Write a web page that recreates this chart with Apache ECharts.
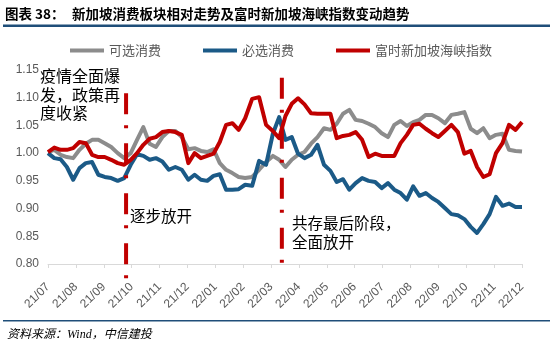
<!DOCTYPE html>
<html>
<head>
<meta charset="utf-8">
<script src="https://cdn.jsdelivr.net/npm/echarts@6/dist/echarts.min.js"></script>
<style>
html, body { margin: 0; padding: 0; background: #fff; }
#chart { width: 550px; height: 351px; }
</style>
</head>
<body>
<div id="chart"></div>
<script>
// 周度采样：2021-07-01 起每 7 天一个点
var startDate = '2021-07-01';
var stepDays = 7;

var monthLabels = ['21/07', '21/08', '21/09', '21/10', '21/11', '21/12', '22/01', '22/02', '22/03',
    '22/04', '22/05', '22/06', '22/07', '22/08', '22/09', '22/10', '22/11', '22/12'];
var yTicks = [0.80, 0.85, 0.90, 0.95, 1.00, 1.05, 1.10, 1.15];
var seriesNames = ['可选消费', '必选消费', '富时新加坡海峡指数'];

// 可选消费
var optionalCons = [1.002, 1.006, 0.997, 0.993, 0.991, 1.006, 1.017, 1.024, 1.024, 1.018,
    1.011, 1.000, 0.991, 1.000, 1.024, 1.047, 1.017, 1.011, 1.029, 1.040,
    1.040, 1.029, 1.007, 1.009, 1.004, 1.002, 1.007, 0.982, 0.970, 0.964,
    0.957, 0.955, 0.957, 0.970, 0.984, 0.995, 0.988, 0.975, 0.988, 0.997,
    1.002, 1.017, 1.029, 1.045, 1.042, 1.053, 1.071, 1.078, 1.060, 1.058,
    1.053, 1.047, 1.036, 1.029, 1.051, 1.058, 1.049, 1.056, 1.060, 1.069,
    1.069, 1.063, 1.054, 1.069, 1.071, 1.074, 1.044, 1.036, 1.045, 1.027,
    1.033, 1.035, 1.006, 1.004, 1.003];
// 必选消费
var stapleCons = [1.000, 0.991, 0.989, 0.975, 0.952, 0.973, 0.982, 0.984, 0.961, 0.957,
    0.955, 0.950, 0.955, 0.979, 0.998, 0.995, 0.988, 0.991, 0.985, 0.970,
    0.975, 0.970, 0.952, 0.961, 0.952, 0.950, 0.959, 0.962, 0.934, 0.934,
    0.935, 0.943, 0.941, 0.986, 0.979, 1.035, 1.065, 1.024, 1.029, 0.999,
    0.991, 0.997, 1.015, 0.979, 0.968, 0.948, 0.953, 0.934, 0.946, 0.955,
    0.950, 0.948, 0.937, 0.946, 0.934, 0.928, 0.916, 0.940, 0.923, 0.928,
    0.919, 0.912, 0.901, 0.890, 0.888, 0.881, 0.867, 0.856, 0.872, 0.890,
    0.921, 0.905, 0.909, 0.903, 0.903];
// 富时新加坡海峡指数
var stiIndex = [1.002, 1.010, 1.006, 1.006, 1.009, 1.020, 1.018, 0.997, 0.993, 0.993,
    0.988, 0.982, 0.979, 0.988, 1.000, 1.015, 1.026, 1.029, 1.038, 1.040,
    1.038, 1.033, 0.982, 1.000, 0.991, 0.995, 0.999, 1.020, 1.051, 1.054,
    1.042, 1.063, 1.098, 1.101, 1.051, 1.040, 1.027, 1.067, 1.089, 1.099,
    1.088, 1.072, 1.071, 1.071, 1.071, 1.027, 1.031, 1.033, 1.038, 1.024,
    0.993, 0.999, 0.995, 0.995, 0.995, 1.018, 1.033, 1.051, 1.053, 1.044,
    1.036, 1.029, 1.040, 1.051, 1.038, 0.999, 1.004, 0.975, 0.957, 0.962,
    1.000, 1.018, 1.051, 1.042, 1.056];

// 政策节点竖线
var eventDates = ['2021-09-25', '2022-03-13'];
var eventTop = [1.108, 1.136];
var eventBottom = [0.769, 0.795];

var colors = ['#8c8c8c', '#1b5a87', '#c00000'];
var cjk = '"Noto Sans CJK SC", sans-serif';

// 日期 -> 自 21/07 起的月份序号（含月内小数）
function monthIndex(d) {
    var y = d.getUTCFullYear(), m = d.getUTCMonth();
    var days = new Date(Date.UTC(y, m + 1, 0)).getUTCDate();
    return (y - 2021) * 12 + (m - 6) + (d.getUTCDate() - 1) / days;
}
function parseDate(s) {
    var p = s.split('-');
    return new Date(Date.UTC(+p[0], +p[1] - 1, +p[2]));
}
var t0 = parseDate(startDate).getTime();
function toPoints(vals) {
    return vals.map(function (v, i) {
        return [monthIndex(new Date(t0 + i * stepDays * 86400000)), v];
    });
}

var lineSeries = [optionalCons, stapleCons, stiIndex].map(function (vals, i) {
    return {
        name: seriesNames[i],
        type: 'line',
        data: toPoints(vals),
        symbol: 'none',
        z: 2 + i,
        lineStyle: { color: colors[i], width: 4, join: 'round' },
        itemStyle: { color: colors[i] }
    };
});
var eventSeries = eventDates.map(function (d, i) {
    var m = monthIndex(parseDate(d));
    return {
        name: 'event' + i,
        type: 'line',
        data: [[m, eventTop[i]], [m, eventBottom[i]]],
        symbol: 'none',
        clip: false,
        z: 6,
        silent: true,
        lineStyle: { color: '#c00000', width: 4, type: [21, 11, 3, 15], cap: 'butt' }
    };
});

var chart = echarts.init(document.getElementById('chart'));
chart.setOption({
    backgroundColor: '#fff',
    animation: false,
    legend: {
        data: seriesNames,
        left: 65,
        top: 39,
        icon: 'rect',
        itemWidth: 34,
        itemHeight: 4,
        itemGap: 42,
        textStyle: { color: '#595959', fontSize: 13, fontFamily: cjk }
    },
    grid: { left: 48, top: 70, width: 474, height: 194 },
    xAxis: {
        type: 'value',
        min: 0,
        max: monthLabels.length - 1,
        interval: 1,
        splitLine: { show: false },
        axisLine: { lineStyle: { color: '#d9d9d9', width: 1 } },
        axisTick: { length: 4, lineStyle: { color: '#d9d9d9' } },
        axisLabel: {
            rotate: 45,
            margin: 21,
            color: '#595959',
            fontSize: 12,
            fontFamily: '"Liberation Sans", Arial, sans-serif',
            formatter: function (v) { return monthLabels[Math.round(v)]; }
        }
    },
    yAxis: {
        type: 'value',
        min: yTicks[0],
        max: yTicks[yTicks.length - 1],
        interval: 0.05,
        splitLine: { show: false },
        axisLine: { show: false },
        axisTick: { show: false },
        axisLabel: {
            margin: 9,
            color: '#595959',
            fontSize: 12,
            fontFamily: '"Liberation Sans", Arial, sans-serif',
            formatter: function (v) { return v.toFixed(2); }
        }
    },
    series: lineSeries.concat(eventSeries),
    graphic: [
        { type: 'text', x: 5, y: 14, style: { text: '图表 38：', fill: '#000', font: 'bold 13.5px ' + cjk, verticalAlign: 'middle' } },
        { type: 'text', x: 72, y: 14, style: { text: '新加坡消费板块相对走势及富时新加坡海峡指数变动趋势', fill: '#000', font: 'bold 13.5px ' + cjk, verticalAlign: 'middle' } },
        { type: 'rect', shape: { x: 3, y: 24.5, width: 547, height: 2.5 }, style: { fill: '#1f4e79' } },
        { type: 'text', x: 40, y: 76, style: { text: '疫情全面爆', fill: '#000', font: '16px ' + cjk, verticalAlign: 'middle' } },
        { type: 'text', x: 40, y: 94.5, style: { text: '发，政策再', fill: '#000', font: '16px ' + cjk, verticalAlign: 'middle' } },
        { type: 'text', x: 40, y: 113, style: { text: '度收紧', fill: '#000', font: '16px ' + cjk, verticalAlign: 'middle' } },
        { type: 'text', x: 130, y: 216, style: { text: '逐步放开', fill: '#000', font: '15.5px ' + cjk, verticalAlign: 'middle' } },
        { type: 'text', x: 292, y: 223, style: { text: '共存最后阶段，', fill: '#000', font: '15.5px ' + cjk, verticalAlign: 'middle' } },
        { type: 'text', x: 292, y: 242, style: { text: '全面放开', fill: '#000', font: '15.5px ' + cjk, verticalAlign: 'middle' } },
        { type: 'rect', shape: { x: 3, y: 320, width: 547, height: 1.5 }, style: { fill: '#1f4e79' } },
        { type: 'text', x: 7, y: 335, style: { text: '资料来源：Wind，中信建投', fill: '#000', font: 'italic 12px "Liberation Serif", ' + cjk, verticalAlign: 'middle' } }
    ]
});
</script>
</body>
</html>
